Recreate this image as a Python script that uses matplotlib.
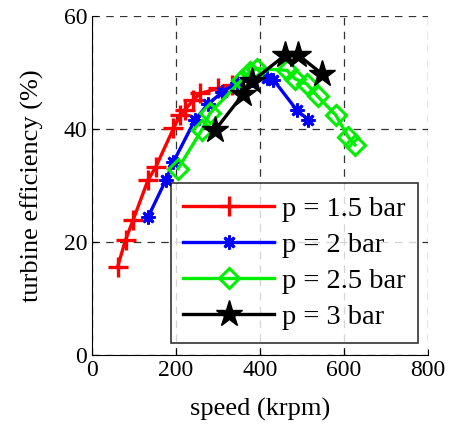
import numpy as np
import matplotlib
matplotlib.use('Agg')
import matplotlib.pyplot as plt

plt.rcParams['font.family'] = ['Liberation Serif', 'DejaVu Serif']

# speed (krpm) and efficiency (%)
speed_15 = [61, 80, 98, 133, 152, 194, 210, 221, 241, 257, 301, 333]
eff_15 = [15.6, 20.4, 23.9, 30.9, 33.3, 40.1, 42.5, 43.4, 45.1, 46.3, 47.2, 47.8]

speed_2 = [134, 176, 194, 245, 277, 310, 345, 380, 416, 432, 487, 515]
eff_2 = [24.5, 31.0, 34.2, 41.6, 44.5, 46.5, 48.2, 48.7, 49.0, 48.7, 43.4, 41.6]

speed_25 = [205, 261, 281, 356, 376, 392, 464, 483, 511, 537, 580, 610, 626]
eff_25 = [33.0, 39.8, 42.8, 48.7, 50.1, 50.7, 50.4, 48.9, 48.0, 45.8, 42.5, 38.6, 37.2]

speed_3 = [293, 360, 382, 460, 491, 547]
eff_3 = [39.8, 46.2, 48.5, 53.1, 53.1, 49.8]

labels = ['p = 1.5 bar', 'p = 2 bar', 'p = 2.5 bar', 'p = 3 bar']

fig = plt.figure(figsize=(4.53, 4.34), dpi=100)
ax = fig.add_axes([0.203, 0.182, 0.742, 0.781])

ax.plot(speed_15, eff_15, color='red', lw=2.4, marker='+', ms=14, mew=2.4, label=labels[0])
ax.plot(speed_2, eff_2, color='blue', lw=2.4, marker=(8, 2, 0), ms=10, mew=2, label=labels[1])
ax.plot(speed_25, eff_25, color='#00ee00', lw=2.4, marker='D', ms=10, mew=2.2, mfc='none', label=labels[2])
ax.plot(speed_3, eff_3, color='black', lw=2.4, marker='*', ms=20, label=labels[3])

ax.set_xlim(0, 800)
ax.set_ylim(0, 60)
ax.set_xticks([0, 200, 400, 600, 800])
ax.set_yticks([0, 20, 40, 60])
ax.grid(True, color='#333333', ls=(0, (6, 5)), lw=0.9)
ax.tick_params(direction='in', labelsize=17, length=4)
for s in ['top', 'right']:
    ax.spines[s].set_visible(False)

ax.set_xlabel('speed (krpm)', fontsize=19, labelpad=12)
ax.set_ylabel('turbine efficiency (%)', fontsize=19, labelpad=14)

leg = ax.legend(loc='lower right', bbox_to_anchor=(0.97, 0.035), fontsize=20.5, frameon=True,
                fancybox=False, edgecolor='black', handlelength=3.2, borderpad=0.45,
                labelspacing=0.36, handletextpad=0.25, borderaxespad=0)
leg.get_frame().set_linewidth(1.2)

fig.savefig('out.png', dpi=100)
